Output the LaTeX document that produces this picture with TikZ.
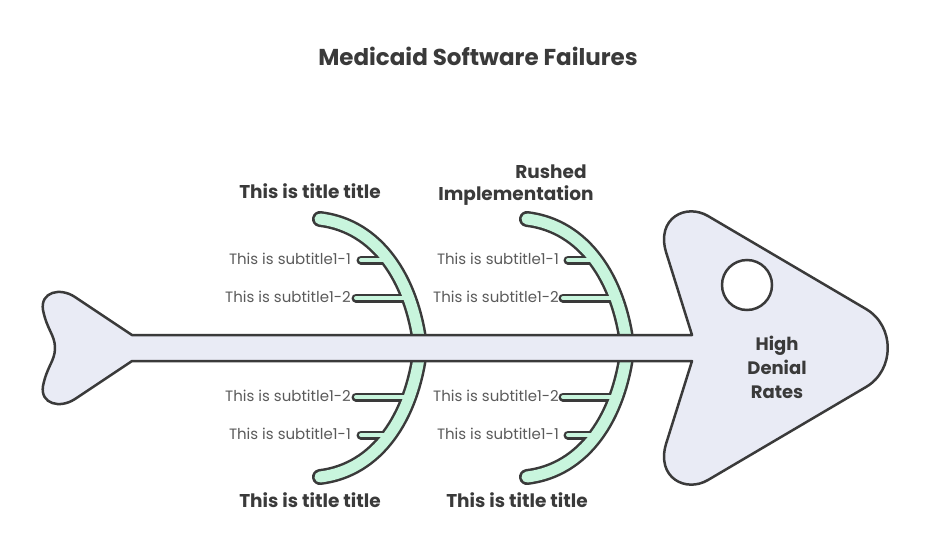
\documentclass[tikz,border=0pt]{standalone}
\usepackage{fontspec}
\setmainfont{Poppins}
\definecolor{ink}{HTML}{3A3A3A}
\definecolor{subc}{HTML}{5A5A5A}
\definecolor{mint}{HTML}{C8F5DD}
\definecolor{bodyc}{HTML}{E9EBF5}
\tikzset{
 boneout/.style={draw=ink, line width=16pt, line cap=round},
 bonein/.style={draw=mint, line width=11pt, line cap=round},
 ribout/.style={draw=ink, line width=9pt, line cap=round},
 ribin/.style={draw=mint, line width=4pt, line cap=round},
 subt/.style={text=subc, font=\fontsize{15}{18}\selectfont, anchor=east, inner sep=0pt},
 ttl/.style={text=ink, font=\bfseries\fontsize{18.5}{22}\selectfont, inner sep=0pt},
 fishline/.style={draw=ink, line width=2.5pt, line join=round},
}
\begin{document}
\begin{tikzpicture}[x=1pt,y=-1pt]
\useasboundingbox (0,0) rectangle (929,552);
% bones: outlines
\foreach \dx in {0,207}{
 \begin{scope}[xshift=\dx pt]
  \draw[boneout] (320,219) .. controls (378,226) and (412,280) .. (420,345);
  \draw[boneout] (320,477) .. controls (378,470) and (412,416) .. (420,351);
  \draw[ribout] (361,260) -- (392,260);
  \draw[ribout] (356,298) -- (407,298);
  \draw[ribout] (356,397) -- (407,397);
  \draw[ribout] (361,435) -- (392,435);
 \end{scope}
}
\foreach \dx in {0,207}{
 \begin{scope}[xshift=\dx pt]
  \draw[bonein] (320,219) .. controls (378,226) and (412,280) .. (420,345);
  \draw[bonein] (320,477) .. controls (378,470) and (412,416) .. (420,351);
  \draw[ribin] (361,260) -- (392,260);
  \draw[ribin] (356,298) -- (407,298);
  \draw[ribin] (356,397) -- (407,397);
  \draw[ribin] (361,435) -- (392,435);
 \end{scope}
}
% fish body
\draw[fishline, fill=bodyc]
 (132,335) -- (692,335) -- (666,252)
 .. controls (656,218) and (686,203) .. (708,216)
 -- (866,309)
 .. controls (895,326) and (895,370) .. (866,387)
 -- (708,480)
 .. controls (686,493) and (656,478) .. (666,444)
 -- (692,361) -- (132,361) -- (75,399)
 .. controls (60,409) and (40,404) .. (43,386)
 .. controls (47,366) and (55,361) .. (55,348)
 .. controls (55,335) and (47,330) .. (43,310)
 .. controls (40,292) and (60,287) .. (75,297)
 -- cycle;
\node[draw=ink, line width=2.5pt, fill=white, circle, minimum size=50pt, inner sep=0pt] (eye) at (747,285) {};
% texts
\node[text=ink, font=\bfseries\fontsize{23}{26}\selectfont, inner sep=0pt] (title) at (478,56) {Medicaid Software Failures};
\node[ttl, align=center, font=\bfseries\fontsize{18}{24}\selectfont] (head) at (777,367) {High\\Denial\\Rates};
\node[ttl] (t1) at (310,191) {This is title title};
\node[ttl] (t2a) at (551,172) {Rushed};
\node[ttl] (t2b) at (516,196) {Implementation};
\node[ttl] (t3) at (310,500) {This is title title};
\node[ttl] (t4) at (517,500) {This is title title};
\foreach \dx in {0,208}{
 \node[subt] at (351+\dx,259) {This is subtitle1-1};
 \node[subt] at (351+\dx,297) {This is subtitle1-2};
 \node[subt] at (351+\dx,396) {This is subtitle1-2};
 \node[subt] at (351+\dx,434) {This is subtitle1-1};
}
\end{tikzpicture}
\end{document}
